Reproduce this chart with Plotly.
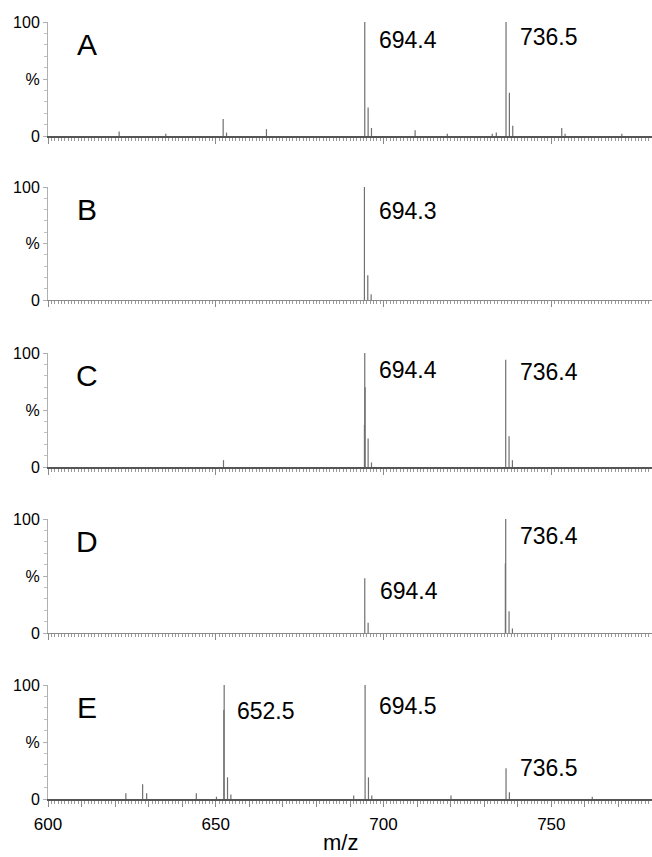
import plotly.graph_objects as go

# ---------------- data ----------------
panel_names = ["A", "B", "C", "D", "E"]

# m/z positions and relative intensities (%) of sticks, per panel
mz_A = [621.2, 635.1, 652.2, 653.2, 665.1, 694.4, 695.4, 696.4, 709.4, 719.0, 732.4, 733.6,
        736.5, 737.5, 738.5, 753.1, 754.1, 771.0]
int_A = [4, 2, 15, 3, 6, 100, 25, 7, 5, 2, 2, 3,
         100, 38, 9, 7, 2, 2]

mz_B = [694.3, 695.3, 696.3]
int_B = [100, 22, 5]

mz_C = [652.3, 694.3, 694.4, 694.5, 695.4, 696.4, 736.4, 737.4, 738.4]
int_C = [6, 37, 100, 70, 25, 4, 94, 27, 6]

mz_D = [694.4, 695.4, 736.3, 736.4, 737.4, 738.4]
int_D = [48, 9, 61, 100, 19, 4]

mz_E = [623.2, 628.2, 629.4, 644.2, 650.2, 652.4, 652.5, 653.5, 654.5, 691.1,
        694.5, 695.5, 696.5, 720.1, 736.5, 737.5, 762.2]
int_E = [5, 13, 5, 5, 2, 78, 100, 19, 4, 3,
         100, 19, 3, 3, 27, 6, 2]

panel_mz = [mz_A, mz_B, mz_C, mz_D, mz_E]
panel_int = [int_A, int_B, int_C, int_D, int_E]

# peak labels (text, m/z of label's left edge, label height in %)
label_text_A = ["694.4", "736.5"]
label_text_B = ["694.3"]
label_text_C = ["694.4", "736.4"]
label_text_D = ["694.4", "736.4"]
label_text_E = ["652.5", "694.5", "736.5"]
label_x_A = [697.9, 740.2]
label_y_A = [84, 87]
label_x_B = [697.9]
label_y_B = [79]
label_x_C = [697.9, 740.2]
label_y_C = [85, 83]
label_x_D = [698.2, 740.2]
label_y_D = [37, 85]
label_x_E = [655.8, 697.9, 740.2]
label_y_E = [77, 82, 27]

panel_labels = [
    (label_text_A, label_x_A, label_y_A),
    (label_text_B, label_x_B, label_y_B),
    (label_text_C, label_x_C, label_y_C),
    (label_text_D, label_x_D, label_y_D),
    (label_text_E, label_x_E, label_y_E),
]

x_tick_vals = list(range(600, 790, 10))
x_tick_text = [str(v) if v % 50 == 0 else "" for v in x_tick_vals]
y_tick_vals = [0, 50, 100]
y_tick_text = ["0", "%", "100"]

# ---------------- layout helpers ----------------
W, H = 652, 857
# pixel rows of 100% and 0% for each panel
top_px = [22, 187, 353, 519, 685]
bot_px = [136, 300, 467, 633, 799]
noisy = [True, False, True, False, True]

FONT = "Liberation Sans, Arial, Helvetica, sans-serif"
STICK = "#707070"

fig = go.Figure()
annotations = []
layout = dict(
    width=W, height=H,
    margin=dict(l=48, r=0, t=0, b=0, autoexpand=False),
    paper_bgcolor="white", plot_bgcolor="white",
    showlegend=False,
    font=dict(family=FONT, color="black"),
)

for i in range(5):
    n = i + 1
    xa = "x" if n == 1 else f"x{n}"
    ya = "y" if n == 1 else f"y{n}"
    xs, ys = [], []
    for m, v in zip(panel_mz[i], panel_int[i]):
        xs += [m, m, None]
        ys += [0, v, None]
    fig.add_trace(go.Scatter(x=xs, y=ys, mode="lines", xaxis=xa, yaxis=ya,
                             line=dict(color=STICK, width=1.2), hoverinfo="skip"))

    d0 = 1 - bot_px[i] / H
    d1 = 1 - top_px[i] / H
    last = (i == 4)
    layout[f"xaxis{'' if n == 1 else n}"] = dict(
        domain=[0, 1], range=[600, 780], anchor=ya, automargin=False,
        showgrid=False, zeroline=False,
        showline=True, linecolor="#555555" if noisy[i] else "#8a8a8a",
        linewidth=1.6 if noisy[i] else 1,
        ticks="outside", ticklen=6, tickwidth=1, tickcolor="#8a8a8a",
        tickvals=x_tick_vals, ticktext=x_tick_text,
        showticklabels=last, ticklabelstandoff=3,
        tickfont=dict(size=17, family=FONT, color="black"),
        minor=dict(ticks="outside", dtick=1, ticklen=3, tickcolor="#9a9a9a", tickwidth=1),
        matches=None if n == 1 else "x",
        fixedrange=True,
    )
    layout[f"yaxis{'' if n == 1 else n}"] = dict(
        domain=[d0, d1], range=[0, 100], anchor=xa, automargin=False,
        showgrid=False, zeroline=False,
        showline=True, linecolor="#b0b0b0", linewidth=1,
        ticks="outside", ticklen=4, tickcolor="#b0b0b0",
        tickvals=y_tick_vals, ticktext=y_tick_text,
        tickfont=dict(size=16, family=FONT, color="black"),
        minor=dict(ticks="outside", dtick=10, ticklen=3, tickcolor="#c0c0c0"),
        fixedrange=True,
    )
    # panel letter
    annotations.append(dict(text=panel_names[i], x=611.6, y=80, xref=xa, yref=ya,
                            showarrow=False, xanchor="center", yanchor="middle",
                            font=dict(size=30, family=FONT, color="black")))
    texts, lxs, lys = panel_labels[i]
    for t, lx, ly in zip(texts, lxs, lys):
        annotations.append(dict(text=t, x=lx, y=ly, xref=xa, yref=ya,
                                showarrow=False, xanchor="left", yanchor="middle",
                                font=dict(size=23, family=FONT, color="black")))

annotations.append(dict(text="m/z", x=(340 - 48) / (W - 48), y=1 - 842 / H,
                        xref="paper", yref="paper", showarrow=False,
                        xanchor="center", yanchor="middle",
                        font=dict(size=22, family=FONT, color="black")))
layout["annotations"] = annotations
fig.update_layout(**layout)
fig.write_html(
    "out.html",
    config={"displayModeBar": False},
    post_script="document.body.style.margin='0';document.body.style.overflow='hidden';",
)
